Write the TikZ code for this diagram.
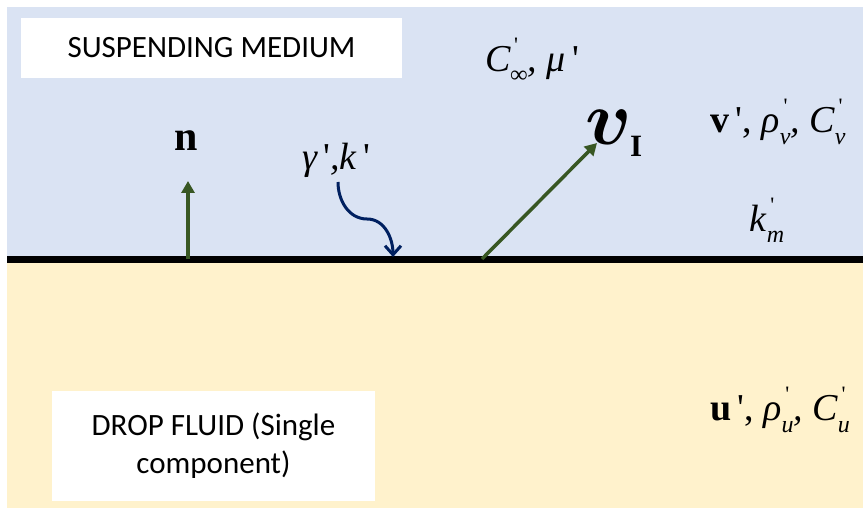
\documentclass[tikz,border=0pt]{standalone}
\usepackage{bm}
\usepackage{fontspec}
\setmainfont{Liberation Serif}[Ligatures=TeXOff]
\newfontfamily\boxfont{Carlito}
\usetikzlibrary{arrows.meta,calc,positioning}
\definecolor{MediumBlue}{RGB}{218,227,243}
\definecolor{DropYellow}{RGB}{255,242,204}
\definecolor{ArrowGreen}{RGB}{56,87,35}
\definecolor{CurveNavy}{RGB}{0,32,96}
\newcommand{\sq}{{\upshape\char"27}}
% prime above, index below
\newcommand{\pidx}[1]{\rlap{\raisebox{0.5em}{\fontsize{22}{22}\selectfont\,\sq}}\raisebox{-0.3em}{\fontsize{24}{24}\selectfont\itshape #1}}

\tikzset{
  phasebox/.style={fill=white,inner sep=0pt,font=\boxfont\fontsize{31}{38}\selectfont,align=center},
  sym/.style={inner sep=1pt,font=\fontsize{38}{44}\selectfont},
  normalarrow/.style={ArrowGreen,line width=3.5pt,-{Triangle[length=12pt,width=13pt]}},
  tensionarrow/.style={CurveNavy,line width=3pt,-{Straight Barb[length=9pt,width=16pt]}}
}

\begin{document}
\begin{tikzpicture}[x=1pt,y=-1pt]
\useasboundingbox (0,0) rectangle (863,508);
\fill[MediumBlue] (7,7) rectangle (863,259);
\fill[DropYellow] (7,259) rectangle (863,508);
\draw[line width=7pt] (7,259.5) -- (863,259.5);

\node[phasebox,minimum width=381pt,minimum height=60pt] (medium) at (211.5,48) {SUSPENDING MEDIUM};
\node[phasebox,minimum width=323pt,minimum height=110pt] (drop) at (213.5,446) {DROP FLUID (Single\\component)};

% normal vector
\coordinate (nbase) at (188,259);
\node[sym,font=\bfseries\fontsize{42}{44}\selectfont] (nlabel) at (186,141) {n};
\draw[normalarrow] (nbase) -- (188,181);

% surface tension
\node[sym] (gamma) at (336,160) {\itshape γ\,\sq,k\,\sq};
\coordinate (gtip) at (393,257);
\draw[tensionarrow] (338,182) to[out=-90,in=180] (367,219) to[out=0,in=90] (gtip);

% interface velocity
\coordinate (vbase) at (482,259);
\node[inner sep=0pt,scale=3.1,transform shape] (vlabel) at (614,133) {\fontsize{24}{24}\selectfont$\bm{v}$\kern-0.8pt\raisebox{-3.8pt}{\fontsize{10}{10}\selectfont\bfseries I}};
\draw[normalarrow] (vbase) -- (597,143);

\node[sym] (outer) at (532,60) {\itshape C\pidx{∞}, μ\,\sq};
\node[sym] (vprops) at (778,122) {\textbf{v}\,\sq, \itshape ρ\pidx{v}, C\pidx{v}};
\node[sym] (kmem) at (767,220) {\itshape k\pidx{m}};
\node[sym] (uprops) at (780,410) {\textbf{u}\,\sq, \itshape ρ\pidx{u}, C\pidx{u}};
\end{tikzpicture}
\end{document}
